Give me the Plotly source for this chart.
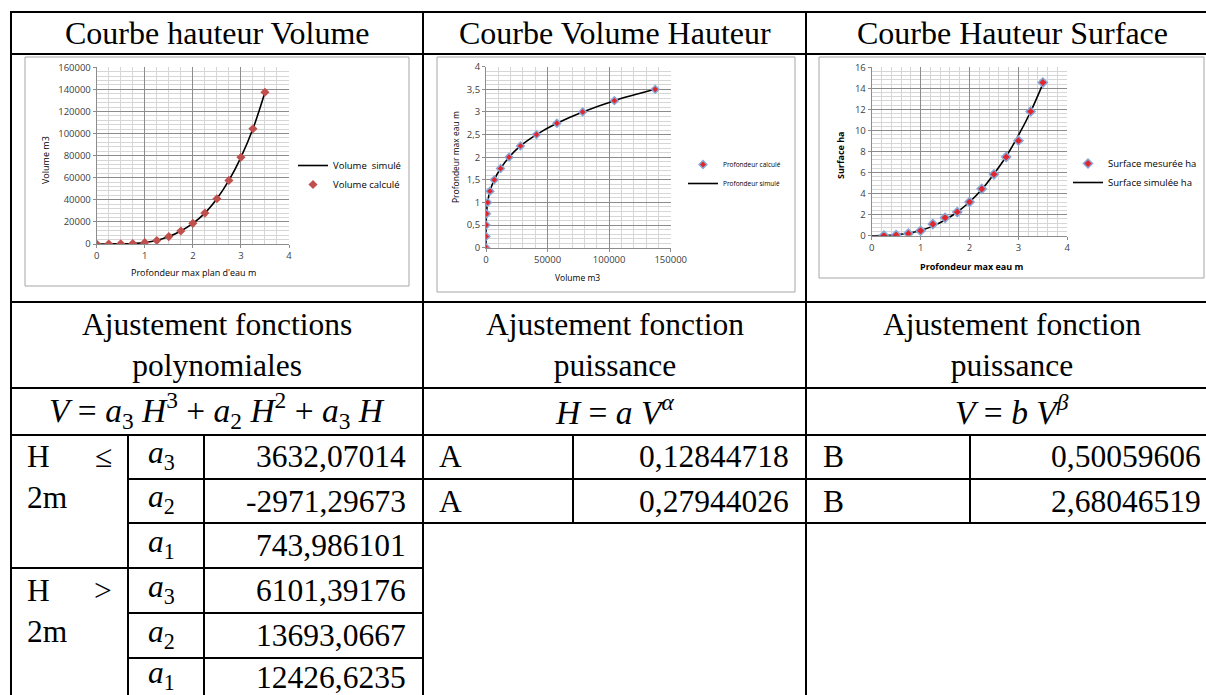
import plotly.graph_objects as go

W, H = 1206, 695

# ---------------- data ----------------
depth_m = [0, 0.25, 0.5, 0.75, 1.0, 1.25, 1.5, 1.75, 2.0, 2.25, 2.5, 2.75, 3.0, 3.25, 3.5]
volume_calc_m3 = [0, 60, 120, 420, 1300, 3200, 6700, 11800, 18700, 28000, 41000, 57600, 78500, 104300, 137400]
volume_sim_m3 = [0, 60, 120, 420, 1300, 3200, 6700, 11800, 18700, 28000, 41000, 57600, 78500, 104300, 137400]

depth_meas_m = [0.25, 0.5, 0.75, 1.0, 1.25, 1.5, 1.75, 2.0, 2.25, 2.5, 2.75, 3.0, 3.25, 3.5]
surface_meas_ha = [0.02, 0.06, 0.2, 0.47, 1.1, 1.7, 2.25, 3.2, 4.45, 5.83, 7.48, 9.03, 11.8, 14.55]
surface_sim_ha = [0, 0.01, 0.08, 0.23, 0.5, 0.91, 1.49, 2.25, 3.2, 4.39, 5.87, 7.52, 9.53, 11.78, 14.43]

x1_ticks = [0, 1, 2, 3, 4]
y1_ticks = [0, 20000, 40000, 60000, 80000, 100000, 120000, 140000, 160000]
x2_ticks = [0, 50000, 100000, 150000]
y2_ticks = [0, 0.5, 1, 1.5, 2, 2.5, 3, 3.5, 4]
y2_ticktext = ["0", "0,5", "1", "1,5", "2", "2,5", "3", "3,5", "4"]
x3_ticks = [0, 1, 2, 3, 4]
y3_ticks = [0, 2, 4, 6, 8, 10, 12, 14, 16]

headers = ["Courbe hauteur Volume", "Courbe Volume Hauteur", "Courbe Hauteur Surface"]
fit_titles = ["Ajustement fonctions<br>polynomiales",
              "Ajustement fonction<br>puissance",
              "Ajustement fonction<br>puissance"]
formulas = [
    "<i>V</i> = <i>a</i><sub>3</sub> <i>H</i><sup>3</sup> + <i>a</i><sub>2</sub> <i>H</i><sup>2</sup> + <i>a</i><sub>3</sub> <i>H</i>",
    "<i>H</i> = <i>a V</i><sup><i>α</i></sup>",
    "<i>V</i> = <i>b V</i><sup><i>β</i></sup>",
]
poly_coef_names = ["<i>a</i><sub>3</sub>", "<i>a</i><sub>2</sub>", "<i>a</i><sub>1</sub>",
                   "<i>a</i><sub>3</sub>", "<i>a</i><sub>2</sub>", "<i>a</i><sub>1</sub>"]
poly_coef_values = ["3632,07014", "-2971,29673", "743,986101", "6101,39176", "13693,0667", "12426,6235"]
range_words = ["H", "H"]
range_signs = ["≤", ">"]
range_limits = ["2m", "2m"]
power_h_names = ["A", "A"]
power_h_values = ["0,12844718", "0,27944026"]
power_s_names = ["B", "B"]
power_s_values = ["0,50059606", "2,68046519"]


# ---------------- helpers ----------------
def px(x):
    return x / W


def py(y):
    return 1 - y / H


SERIF = "Liberation Serif"
SANS = "Open Sans"
TFS = 31.5

fig = go.Figure()

# chart 1 : hauteur -> volume
fig.add_trace(go.Scatter(x=depth_m, y=volume_sim_m3, mode="lines", name="Volume  simulé",
                         line=dict(color="black", width=1.6, shape="spline"),
                         xaxis="x", yaxis="y", legend="legend"))
fig.add_trace(go.Scatter(x=depth_m, y=volume_calc_m3, mode="markers", name="Volume calculé",
                         marker=dict(symbol="diamond", size=7, color="#c0504d"),
                         xaxis="x", yaxis="y", legend="legend"))

# chart 2 : volume -> hauteur
fig.add_trace(go.Scatter(x=volume_sim_m3, y=depth_m, mode="lines", name="Profondeur simulé",
                         line=dict(color="black", width=1.6, shape="spline"),
                         xaxis="x2", yaxis="y2", legend="legend2", legendrank=2))
fig.add_trace(go.Scatter(x=volume_calc_m3, y=depth_m, mode="markers", name="Profondeur calculé",
                         marker=dict(symbol="diamond", size=6, color="#e3262b",
                                     line=dict(color="#86a8d8", width=1.4)),
                         xaxis="x2", yaxis="y2", legend="legend2", legendrank=1))

# chart 3 : hauteur -> surface
fig.add_trace(go.Scatter(x=depth_m, y=surface_sim_ha, mode="lines", name="Surface simulée ha",
                         line=dict(color="black", width=1.6, shape="spline"),
                         xaxis="x3", yaxis="y3", legend="legend3", legendrank=2))
fig.add_trace(go.Scatter(x=depth_meas_m, y=surface_meas_ha, mode="markers", name="Surface mesurée ha",
                         marker=dict(symbol="diamond", size=7, color="#e3262b",
                                     line=dict(color="#86a8d8", width=1.5)),
                         xaxis="x3", yaxis="y3", legend="legend3", legendrank=1))

MAJ = "#8c8c8c"
MIN = "#d6d6d6"
tickfont = dict(family=SANS, size=9.5, color="#404040")


def axis(domain, rng, tickvals, ticktext, minor_dtick, anchor):
    return dict(domain=domain, range=rng, anchor=anchor, tickmode="array",
                tickvals=tickvals, ticktext=ticktext, showgrid=True, gridcolor=MAJ, gridwidth=1,
                minor=dict(dtick=minor_dtick, tick0=0, showgrid=True, gridcolor=MIN, gridwidth=1),
                zeroline=False, showline=True, linecolor=MAJ, linewidth=1,
                ticks="outside", ticklen=3, tickcolor=MAJ, tickfont=tickfont, fixedrange=True)


fig.update_layout(
    xaxis=axis([px(96.7), px(289)], [0, 4], x1_ticks, [str(v) for v in x1_ticks], 0.25, "y"),
    yaxis=axis([py(244), py(67.3)], [0, 160000], y1_ticks, [str(v) for v in y1_ticks], 4000, "x"),
    xaxis2=axis([px(486), px(670.7)], [0, 150000], x2_ticks, [str(v) for v in x2_ticks], 10000, "y2"),
    yaxis2=axis([py(247.7), py(66.7)], [0, 4], y2_ticks, y2_ticktext, 0.1, "x2"),
    xaxis3=axis([px(871.7), px(1067.3)], [0, 4], x3_ticks, [str(v) for v in x3_ticks], 0.2, "y3"),
    yaxis3=axis([py(235.7), py(67.3)], [0, 16], y3_ticks, [str(v) for v in y3_ticks], 0.4, "x3"),
)

legend_common = dict(xanchor="left", yanchor="middle", bgcolor="rgba(0,0,0,0)",
                     itemwidth=30, tracegroupgap=0, traceorder="normal")
fig.update_layout(
    legend=dict(x=px(293), y=py(175), font=dict(family=SANS, size=9.5, color="black"), **legend_common),
    legend2=dict(x=px(683), y=py(174), font=dict(family=SANS, size=6.5, color="black"), **legend_common),
    legend3=dict(x=px(1068), y=py(173), font=dict(family=SANS, size=9.5, color="black"), **legend_common),
)

shapes = []
# chart frames
for (x0, x1, y0, y1) in [(25, 409, 57, 286), (437, 795, 57, 292), (819, 1204, 57, 278)]:
    shapes.append(dict(type="rect", xref="paper", yref="paper", x0=px(x0), x1=px(x1), y0=py(y0), y1=py(y1),
                       line=dict(color="#a6a6a6", width=1), layer="below"))


def hline(y, x0, x1):
    shapes.append(dict(type="line", xref="paper", yref="paper", x0=px(x0), x1=px(x1), y0=py(y), y1=py(y),
                       line=dict(color="black", width=2)))


def vline(x, y0, y1):
    shapes.append(dict(type="line", xref="paper", yref="paper", x0=px(x), x1=px(x), y0=py(y0), y1=py(y1),
                       line=dict(color="black", width=2)))


for y in [12, 54, 302, 388, 435]:
    hline(y, 10, 1210)
hline(479, 128, 1210)
hline(523, 128, 1210)
hline(568, 10, 423)
hline(613, 128, 423)
hline(658, 128, 423)
for x in [11, 423, 806]:
    vline(x, 11, 700)
for x in [128, 204]:
    vline(x, 435, 700)
for x in [573, 970]:
    vline(x, 435, 523)

fig.update_layout(shapes=shapes)

ann = []


def text(x, y, s, size=TFS, xanchor="center", family=SERIF, color="black", angle=0, bold=False):
    if bold:
        s = "<b>" + s + "</b>"
    ann.append(dict(x=px(x), y=py(y), xref="paper", yref="paper", text=s, showarrow=False,
                    xanchor=xanchor, yanchor="middle", textangle=angle,
                    font=dict(family=family, size=size, color=color)))


col_centers = [217, 614.5, 1012]
for c, s in zip(col_centers, headers):
    text(c, 33, s, size=32)
for c, s in zip(col_centers, fit_titles):
    text(c, 345, s)
for c, s in zip(col_centers, formulas):
    text(c, 410, s, size=33.5)

row_centers = [457, 501, 545.5, 590.5, 635.5, 677]
for yc, nm, v in zip(row_centers, poly_coef_names, poly_coef_values):
    text(146, yc - 2, nm, xanchor="left")
    text(408, yc, v, xanchor="right")
for i in range(2):
    y_first = row_centers[3 * i]
    text(25, y_first, range_words[i], xanchor="left")
    text(114, y_first, range_signs[i], xanchor="right")
    text(25, row_centers[3 * i + 1] - 4, range_limits[i], xanchor="left")
for yc, nm, v in zip(row_centers, power_h_names, power_h_values):
    text(437, yc, nm, xanchor="left")
    text(791, yc, v, xanchor="right")
for yc, nm, v in zip(row_centers, power_s_names, power_s_values):
    text(821, yc, nm, xanchor="left")
    text(1203, yc, v, xanchor="right")

# axis titles
text(193, 273, "Profondeur max plan d'eau m", size=9, family=SANS)
text(45, 160, "Volume m3", size=9, family=SANS, angle=-90)
text(577, 277, "Volume m3", size=8.5, family=SANS)
text(456, 157, "Profondeur max eau m", size=8.5, family=SANS, angle=-90)
text(971, 266, "Profondeur max eau m", size=9, family=SANS, bold=True)
text(841, 155, "Surface ha", size=9, family=SANS, angle=-90, bold=True)

fig.update_layout(annotations=ann)

fig.update_layout(width=W, height=H, margin=dict(l=0, r=0, t=0, b=0, pad=0, autoexpand=False),
                  paper_bgcolor="white", plot_bgcolor="white", showlegend=True)

fig.write_html("out.html", config={"displayModeBar": False})
